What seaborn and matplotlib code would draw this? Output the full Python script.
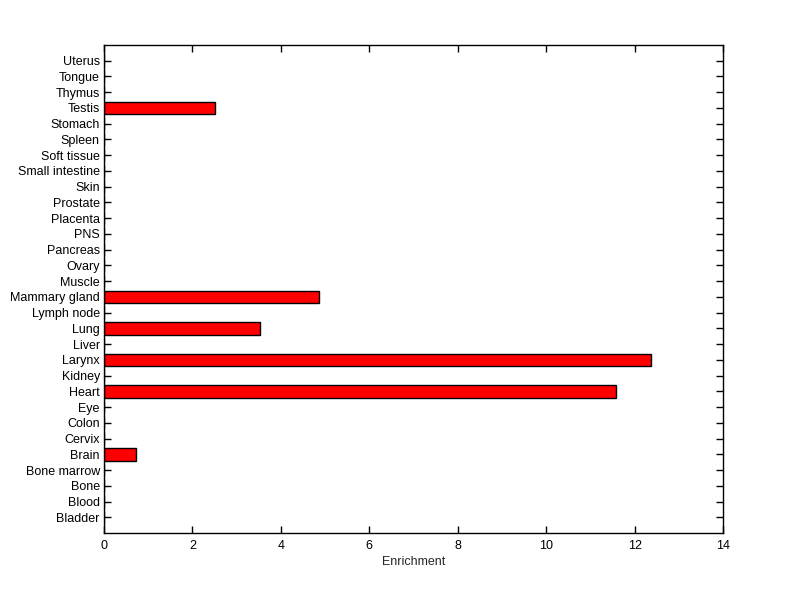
import numpy as np
import pandas as pd
import matplotlib
matplotlib.use("Agg")
import matplotlib.pyplot as plt
import seaborn as sns

# tissues, bottom to top as in the picture
tissues = ["Bladder", "Blood", "Bone", "Bone marrow", "Brain", "Cervix", "Colon",
           "Eye", "Heart", "Kidney", "Larynx", "Liver", "Lung", "Lymph node",
           "Mammary gland", "Muscle", "Ovary", "Pancreas", "PNS", "Placenta",
           "Prostate", "Skin", "Small intestine", "Soft tissue", "Spleen",
           "Stomach", "Testis", "Thymus", "Tongue", "Uterus"]
enrichment = [0, 0, 0, 0, 0.72, 0, 0,
              0, 11.57, 0, 12.38, 0, 3.53, 0,
              4.87, 0, 0, 0, 0, 0,
              0, 0, 0, 0, 0,
              0, 2.5, 0, 0, 0]

df = pd.DataFrame({"tissue": tissues, "enrichment": enrichment})

sns.set_style("white")
plt.rcParams["font.family"] = ["Liberation Sans", "DejaVu Sans"]

fig = plt.figure(figsize=(8, 5.99), dpi=100)
ax = fig.add_axes([104 / 800, 66 / 599, 619 / 800, 488 / 599])

sns.barplot(data=df, x="enrichment", y="tissue", order=tissues[::-1],
            color="red", saturation=1, width=0.8, edgecolor="black",
            linewidth=1, ax=ax)

ax.set_ylim(30, -1)
ax.set_xlim(0, 14)
ax.set_xticks(np.arange(0, 15, 2))
ax.set_xlabel("Enrichment", fontsize=9, labelpad=3)
ax.set_ylabel("")
for s in ax.spines.values():
    s.set_color("black")
    s.set_linewidth(1)
ax.tick_params(direction="in", length=5, width=1, colors="black", labelsize=9,
               top=True, right=True, bottom=True, left=True)
ax.tick_params(axis="x", pad=5)
ax.tick_params(axis="y", pad=3)

fig.savefig("out.png", dpi=100)
